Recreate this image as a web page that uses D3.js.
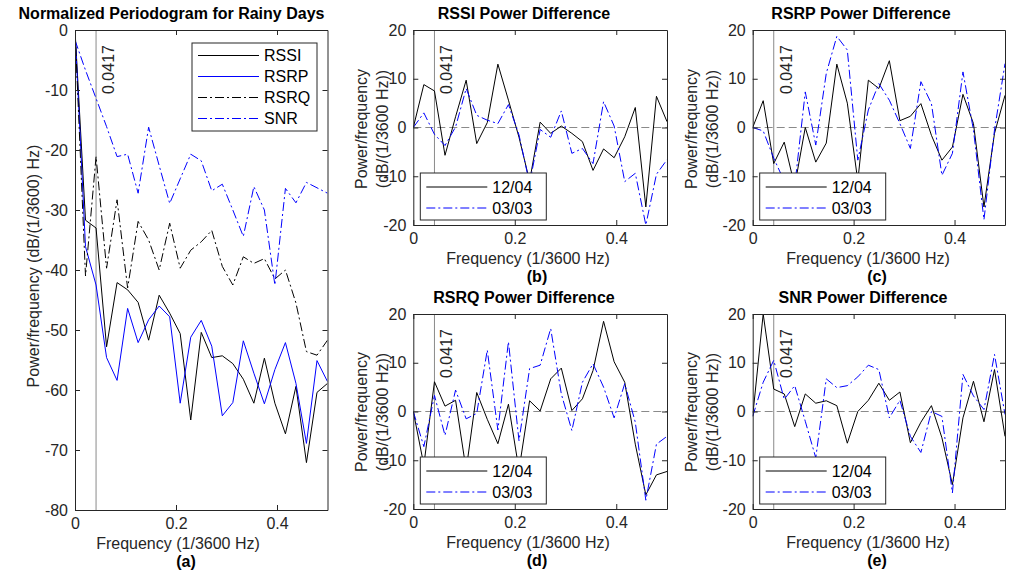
<!DOCTYPE html>
<html><head><meta charset="utf-8">
<script src="https://cdn.jsdelivr.net/npm/d3@7"></script>
<style>
html,body{margin:0;padding:0;background:#fff;}
text{font-family:"Liberation Sans",Arial,Helvetica,sans-serif;}
</style></head>
<body><svg id="chart" width="1009" height="574"></svg>
<script>
// ---------------- data ----------------
const freq = [0,0.0208,0.0417,0.0625,0.0833,0.1042,0.125,0.1458,0.1667,0.1875,0.2083,0.2292,0.25,0.2708,0.2917,0.3125,0.3333,0.3542,0.375,0.3958,0.4167,0.4375,0.4583,0.4792,0.5];
const markerFreq = 0.0417;
const xTicks = [0, 0.2, 0.4];
const xTickLabels = ["0", "0.2", "0.4"];
const yTicksA = [-80,-70,-60,-50,-40,-30,-20,-10,0];
const yTickLabelsA = ["-80","-70","-60","-50","-40","-30","-20","-10","0"];
const yTicksDiff = [-20,-10,0,10,20];
const yTickLabelsDiff = ["-20","-10","0","10","20"];

// panel (a): normalized periodogram
const seriesNamesA = ["RSSI","RSRP","RSRQ","SNR"];
const rssiA = [0,-31.7,-33,-52.8,-42.1,-43.3,-45.4,-51.7,-44.2,-47.2,-50.6,-65,-50.4,-54.6,-54.3,-55.6,-58.2,-62.2,-54.7,-62.2,-67.3,-59.4,-72.1,-60.4,-58.9];
const rsrpA = [0,-36.1,-42.5,-54.6,-58.4,-46.4,-52.1,-48.3,-46,-47.8,-62.2,-51.2,-48.4,-52.7,-64.3,-62.1,-51.8,-57.2,-62.3,-56.6,-52.1,-58.9,-68.9,-55.1,-58.6];
const rsrqA = [0,-41,-21.1,-39.7,-28.3,-43,-31.9,-35,-40,-32.2,-39.7,-36.7,-35.3,-33.4,-39.4,-42.5,-37.8,-38.9,-38.1,-41.5,-40,-45.5,-53.6,-54.2,-51.7];
const snrA  = [-1.7,-6.7,-11.4,-16.1,-21.1,-20.7,-27.2,-16.2,-22.6,-28.9,-24.8,-20.7,-21.8,-26.8,-25.7,-30,-34.4,-26.1,-30,-42.5,-26.4,-28.8,-25.4,-26.3,-27.2];

// panels (b)-(e): power difference, two days
const dayNames = ["12/04","03/03"];
const rssiDiff1204 = [0,8.8,7.5,-5.7,2.2,9.7,-3.3,1,13,5.6,-2,-11,1.1,-1.2,0.3,-1.2,-2.9,-8.8,-4.4,-6.2,-1.9,4.1,-16.3,6.4,1.2];
const rssiDiff0303 = [0,3,-1.4,-3.7,0.1,8,2.5,1.5,0.8,4.7,-1.5,-11.5,-0.4,-2,3.4,-5.3,-4.3,-7.4,5.3,0.3,-11.1,-9.4,-20,-9.6,-6.6];
const rsrpDiff1204 = [0,5.5,-7.4,-3,-12,0,-7.1,-3.2,13,5,-11,9.7,8,13.7,1.4,2.3,4.9,-1.6,-6.7,-4,6.8,0.8,-16.3,-1.2,6.6];
const rsrpDiff0303 = [0,-0.7,-6.3,-11,-12,7.3,-3.6,11.1,18.7,15.9,-6.7,3.6,9,5.6,0.8,-4.3,9.4,4.9,-9.8,-5.3,11.4,-0.5,-18.9,-0.5,13.1];
const rsrqDiff1204 = [0,-11,6.1,1.1,2.3,-12,3.9,-1.6,-6.6,1.5,-12,2.2,0.1,6.7,8.9,0.2,2.6,8.4,18.5,10.2,6,-6.7,-17.1,-13,-12.3];
const rsrqDiff0303 = [0,-7.2,3.3,-4.9,4.4,-1.5,-0.4,12.6,-3.8,14.3,-6,8.8,9.5,17,3.6,-3.9,6,9.8,5,-1.3,5.7,-2.2,-18.2,-6.7,-5.1];
const snrDiff1204  = [-1,20,4.6,3.6,-3.1,3.6,1.7,2.2,1.2,-6.5,0,2.3,5.8,2.3,4,-6.4,-2.2,1.2,-5.4,-15,-1.3,6.2,-2.1,8.6,-5.1];
const snrDiff0303  = [-1,6,10.5,2.5,5.3,-2,-9.5,6.7,4.9,5.3,7.1,9.5,8.6,-1.3,2.3,-5.1,-8.4,0,-1,-16.7,7.6,3.2,0.4,11.7,-0.6];

// ---------------- drawing ----------------
const svg = d3.select("#chart");
const AX = "#262626";
const DASHDOT = "9,3,2,3";
const FS = 16;

let clipId = 0;
function drawPanel(p) {
  const x = d3.scaleLinear().domain([0, 0.5]).range([p.x0, p.x1]);
  const y = d3.scaleLinear().domain(p.ydomain).range([p.y1, p.y0]);
  const g = svg.append("g");
  const cid = "clip" + (clipId++);
  g.append("clipPath").attr("id", cid).append("rect")
    .attr("x", p.x0).attr("y", p.y0).attr("width", p.x1 - p.x0).attr("height", p.y1 - p.y0);
  const plot = g.append("g").attr("clip-path", `url(#${cid})`);

  if (p.zeroLine) {
    plot.append("line").attr("x1", x(0)).attr("x2", x(0.5)).attr("y1", y(0)).attr("y2", y(0))
      .attr("stroke", "#8a8a8a").attr("stroke-width", 1).attr("stroke-dasharray", "8,4");
  }
  plot.append("line").attr("x1", x(markerFreq)).attr("x2", x(markerFreq))
    .attr("y1", p.y0).attr("y2", p.y1).attr("stroke", "#8a8a8a").attr("stroke-width", 1);

  const line = d3.line().x((d, i) => x(freq[i])).y(d => y(d));
  p.series.forEach(s => {
    plot.append("path").datum(s.values).attr("d", line)
      .attr("fill", "none").attr("stroke", s.color).attr("stroke-width", 1)
      .attr("stroke-dasharray", s.dash || null).attr("stroke-linejoin", "miter");
  });

  // rotated marker label
  g.append("text").attr("transform", `translate(${x(markerFreq) + 18},${p.y0 + 64}) rotate(-90)`)
    .attr("font-size", FS).attr("fill", AX).text(String(markerFreq));

  // axes
  const tl = 5;
  const fmtX = (d) => xTickLabels[xTicks.indexOf(d)];
  const fmtY = (d) => p.yTickLabels[p.yTicks.indexOf(d)];
  const bottom = g.append("g").attr("transform", `translate(0,${p.y1})`)
    .call(d3.axisBottom(x).tickValues(xTicks).tickFormat(fmtX).tickSizeInner(-tl).tickSizeOuter(0).tickPadding(8));
  const top = g.append("g").attr("transform", `translate(0,${p.y0})`)
    .call(d3.axisTop(x).tickValues(xTicks).tickFormat("").tickSizeInner(-tl).tickSizeOuter(0));
  const left = g.append("g").attr("transform", `translate(${p.x0},0)`)
    .call(d3.axisLeft(y).tickValues(p.yTicks).tickFormat(fmtY).tickSizeInner(-tl).tickSizeOuter(0).tickPadding(7));
  const right = g.append("g").attr("transform", `translate(${p.x1},0)`)
    .call(d3.axisRight(y).tickValues(p.yTicks).tickFormat("").tickSizeInner(-tl).tickSizeOuter(0));
  [bottom, top, left, right].forEach(a => {
    a.selectAll("path.domain").attr("stroke", AX).attr("stroke-width", 1);
    a.selectAll(".tick line").attr("stroke", AX);
    a.selectAll(".tick text").attr("fill", AX).attr("font-size", FS).attr("font-family", '"Liberation Sans",Arial,sans-serif');
  });
  bottom.selectAll(".tick text").attr("dy", "0.71em");

  // legend
  const L = p.legend;
  const lg = g.append("g");
  lg.append("rect").attr("x", L.x).attr("y", L.y).attr("width", L.w).attr("height", L.h)
    .attr("fill", "#fff").attr("stroke", AX).attr("stroke-width", 1);
  p.series.forEach((s, i) => {
    const yy = L.y + L.first + i * L.step;
    lg.append("line").attr("x1", L.x + 6).attr("x2", L.x + 67).attr("y1", yy).attr("y2", yy)
      .attr("stroke", s.color).attr("stroke-width", 1).attr("stroke-dasharray", s.dash || null);
    lg.append("text").attr("x", L.x + 72).attr("y", yy).attr("dy", "0.35em")
      .attr("font-size", FS).attr("fill", "#000").text(s.name);
  });

  // titles and labels
  g.append("text").attr("x", p.titleX).attr("y", p.y0 - 11).attr("text-anchor", "middle")
    .attr("font-size", FS).attr("font-weight", "bold").attr("fill", "#000").text(p.title);
  g.append("text").attr("x", p.xlabelX).attr("y", p.y1 + 39).attr("text-anchor", "middle")
    .attr("font-size", FS).attr("fill", AX).text("Frequency (1/3600 Hz)");
  g.append("text").attr("x", p.subX).attr("y", p.y1 + 57).attr("text-anchor", "middle")
    .attr("font-size", FS).attr("font-weight", "bold").attr("fill", "#000").text(p.sub);
  p.ylabel.forEach((t, i) => {
    g.append("text").attr("transform", `translate(${p.ylabelX[i]},${p.ylabelY}) rotate(-90)`)
      .attr("text-anchor", "middle").attr("font-size", FS).attr("fill", AX).text(t);
  });
}

const black = "#000000", blue = "#0000ff";
function diffSeries(a, b) {
  return [
    {name: dayNames[0], values: a, color: black},
    {name: dayNames[1], values: b, color: blue, dash: DASHDOT}
  ];
}
function diffLegend(x0, y1) { return {x: x0 + 7, y: y1 - 52, w: 126, h: 47, first: 14, step: 21}; }

drawPanel({
  x0: 75, x1: 327.5, y0: 30, y1: 510, ydomain: [-80, 0], yTicks: yTicksA, yTickLabels: yTickLabelsA,
  series: [
    {name: seriesNamesA[0], values: rssiA, color: black},
    {name: seriesNamesA[1], values: rsrpA, color: blue},
    {name: seriesNamesA[2], values: rsrqA, color: black, dash: DASHDOT},
    {name: seriesNamesA[3], values: snrA, color: blue, dash: DASHDOT}
  ],
  legend: {x: 192, y: 43, w: 125, h: 88, first: 12.5, step: 21},
  title: "Normalized Periodogram for Rainy Days", titleX: 171.5,
  xlabelX: 178, sub: "(a)", subX: 186,
  ylabel: ["Power/frequency (dB/(1/3600) Hz)"], ylabelX: [39], ylabelY: 266, zeroLine: false
});
drawPanel({
  x0: 413.3, x1: 667, y0: 30, y1: 225, ydomain: [-20, 20], yTicks: yTicksDiff, yTickLabels: yTickLabelsDiff,
  series: diffSeries(rssiDiff1204, rssiDiff0303), legend: diffLegend(413.3, 225),
  title: "RSSI Power Difference", titleX: 524, xlabelX: 528, sub: "(b)", subX: 537,
  ylabel: ["Power/frequency", "(dB/(1/3600 Hz))"], ylabelX: [367, 388], ylabelY: 129, zeroLine: true
});
drawPanel({
  x0: 752.7, x1: 1005, y0: 30, y1: 225, ydomain: [-20, 20], yTicks: yTicksDiff, yTickLabels: yTickLabelsDiff,
  series: diffSeries(rsrpDiff1204, rsrpDiff0303), legend: diffLegend(752.7, 225),
  title: "RSRP Power Difference", titleX: 861, xlabelX: 868, sub: "(c)", subX: 877,
  ylabel: ["Power/frequency", "(dB/(1/3600 Hz))"], ylabelX: [697, 718], ylabelY: 129, zeroLine: true
});
drawPanel({
  x0: 413.3, x1: 667, y0: 314, y1: 509, ydomain: [-20, 20], yTicks: yTicksDiff, yTickLabels: yTickLabelsDiff,
  series: diffSeries(rsrqDiff1204, rsrqDiff0303), legend: diffLegend(413.3, 509),
  title: "RSRQ Power Difference", titleX: 524, xlabelX: 528, sub: "(d)", subX: 537,
  ylabel: ["Power/frequency", "(dB/(1/3600 Hz))"], ylabelX: [367, 388], ylabelY: 412, zeroLine: true
});
drawPanel({
  x0: 752.7, x1: 1005, y0: 314, y1: 509, ydomain: [-20, 20], yTicks: yTicksDiff, yTickLabels: yTickLabelsDiff,
  series: diffSeries(snrDiff1204, snrDiff0303), legend: diffLegend(752.7, 509),
  title: "SNR Power Difference", titleX: 863, xlabelX: 868, sub: "(e)", subX: 877,
  ylabel: ["Power/frequency", "(dB/(1/3600 Hz))"], ylabelX: [697, 718], ylabelY: 412, zeroLine: true
});
</script></body></html>
